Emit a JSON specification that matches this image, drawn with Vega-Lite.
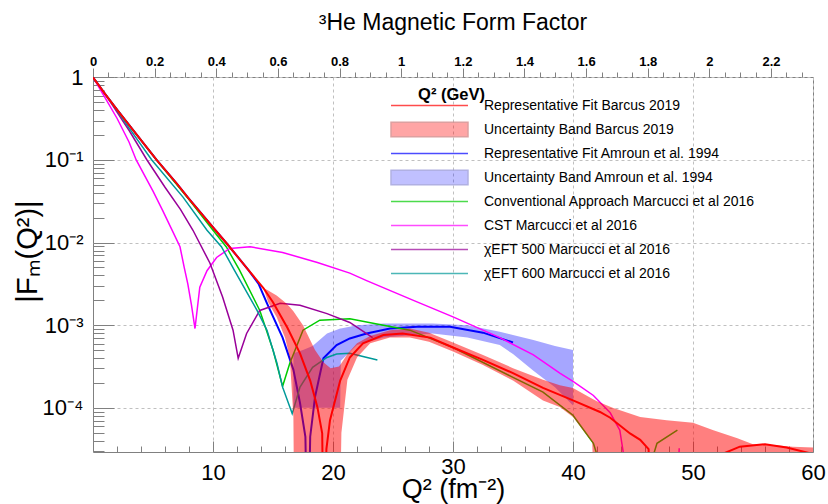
{
  "$schema": "https://vega.github.io/schema/vega-lite/v6.json",
  "width": 720,
  "height": 375,
  "padding": {"left": 13, "top": 12, "right": 0, "bottom": 0},
  "background": "white",
  "title": {"text": "³He Magnetic Form Factor", "font": "Liberation Sans", "fontSize": 23, "fontWeight": "normal", "color": "#000", "anchor": "middle", "offset": 20},
  "config": {
    "view": {"stroke": "#808080", "strokeWidth": 1},
    "axis": {"labelFont": "Liberation Sans", "titleFont": "Liberation Sans", "labelColor": "#000", "titleColor": "#000", "tickColor": "#808080", "gridColor": "#c0c0c0", "gridDash": [3, 3], "domain": false, "labelOverlap": false, "labelFlush": false, "labelBound": false},
    "legend": {"orient": "none", "legendX": 328, "legendY": 20, "title": null, "direction": "vertical", "labelFont": "Liberation Sans", "labelFontSize": 14, "labelColor": "#000", "labelLimit": 500, "symbolSize": 237, "symbolStrokeWidth": 1.5, "labelOffset": 46, "rowPadding": 3, "gridAlign": "all", "padding": 0}
  },
  "datasets": {
    "lines": [
      {"s": "Representative Fit Barcus 2019", "q2": 0, "f": 1},
      {"s": "Representative Fit Barcus 2019", "q2": 1, "f": 0.631},
      {"s": "Representative Fit Barcus 2019", "q2": 2, "f": 0.407},
      {"s": "Representative Fit Barcus 2019", "q2": 3, "f": 0.266},
      {"s": "Representative Fit Barcus 2019", "q2": 4, "f": 0.174},
      {"s": "Representative Fit Barcus 2019", "q2": 5.3, "f": 0.1},
      {"s": "Representative Fit Barcus 2019", "q2": 7, "f": 0.0513},
      {"s": "Representative Fit Barcus 2019", "q2": 8, "f": 0.0339},
      {"s": "Representative Fit Barcus 2019", "q2": 10.2, "f": 0.0141},
      {"s": "Representative Fit Barcus 2019", "q2": 11.2, "f": 0.00955},
      {"s": "Representative Fit Barcus 2019", "q2": 12.94, "f": 0.00468},
      {"s": "Representative Fit Barcus 2019", "q2": 14.2, "f": 0.00282},
      {"s": "Representative Fit Barcus 2019", "q2": 15, "f": 0.0019},
      {"s": "Representative Fit Barcus 2019", "q2": 16.2, "f": 0.000933},
      {"s": "Representative Fit Barcus 2019", "q2": 17.25, "f": 0.000457},
      {"s": "Representative Fit Barcus 2019", "q2": 18.1, "f": 0.000214},
      {"s": "Representative Fit Barcus 2019", "q2": 18.7, "f": 0.000102},
      {"s": "Representative Fit Barcus 2019", "q2": 19.1, "f": 0.000049},
      {"s": "Representative Fit Barcus 2019", "q2": 19.25, "f": 0.000001},
      {"s": "Representative Fit Barcus 2019", "q2": 19.45, "f": 0.0000316},
      {"s": "Representative Fit Barcus 2019", "q2": 19.75, "f": 0.0000708},
      {"s": "Representative Fit Barcus 2019", "q2": 20.6, "f": 0.000214},
      {"s": "Representative Fit Barcus 2019", "q2": 21.4, "f": 0.000407},
      {"s": "Representative Fit Barcus 2019", "q2": 22.5, "f": 0.000603},
      {"s": "Representative Fit Barcus 2019", "q2": 24.2, "f": 0.000759},
      {"s": "Representative Fit Barcus 2019", "q2": 25.8, "f": 0.000794},
      {"s": "Representative Fit Barcus 2019", "q2": 28.1, "f": 0.000708},
      {"s": "Representative Fit Barcus 2019", "q2": 30, "f": 0.000537},
      {"s": "Representative Fit Barcus 2019", "q2": 32.5, "f": 0.00038},
      {"s": "Representative Fit Barcus 2019", "q2": 35, "f": 0.000263},
      {"s": "Representative Fit Barcus 2019", "q2": 37.5, "f": 0.000174},
      {"s": "Representative Fit Barcus 2019", "q2": 40, "f": 0.000123},
      {"s": "Representative Fit Barcus 2019", "q2": 42.25, "f": 0.0000891},
      {"s": "Representative Fit Barcus 2019", "q2": 43.1, "f": 0.0000759},
      {"s": "Representative Fit Barcus 2019", "q2": 44.75, "f": 0.000049},
      {"s": "Representative Fit Barcus 2019", "q2": 45.6, "f": 0.000041},
      {"s": "Representative Fit Barcus 2019", "q2": 46.3, "f": 0.0000316},
      {"s": "Representative Fit Barcus 2019", "q2": 46.6, "f": 0.000001},
      {"s": "Representative Fit Barcus 2019", "q2": 48, "f": 0.0000063},
      {"s": "Representative Fit Barcus 2019", "q2": 50, "f": 0.0000141},
      {"s": "Representative Fit Barcus 2019", "q2": 52.25, "f": 0.0000269},
      {"s": "Representative Fit Barcus 2019", "q2": 53.9, "f": 0.0000339},
      {"s": "Representative Fit Barcus 2019", "q2": 56, "f": 0.0000363},
      {"s": "Representative Fit Barcus 2019", "q2": 57.8, "f": 0.0000331},
      {"s": "Representative Fit Barcus 2019", "q2": 59.75, "f": 0.0000282},
      {"s": "Representative Fit Barcus 2019", "q2": 60, "f": 0.0000269},

      {"s": "Representative Fit Amroun et al. 1994", "q2": 0, "f": 1},
      {"s": "Representative Fit Amroun et al. 1994", "q2": 1, "f": 0.631},
      {"s": "Representative Fit Amroun et al. 1994", "q2": 2, "f": 0.407},
      {"s": "Representative Fit Amroun et al. 1994", "q2": 3, "f": 0.266},
      {"s": "Representative Fit Amroun et al. 1994", "q2": 4, "f": 0.174},
      {"s": "Representative Fit Amroun et al. 1994", "q2": 5.3, "f": 0.1},
      {"s": "Representative Fit Amroun et al. 1994", "q2": 7, "f": 0.0513},
      {"s": "Representative Fit Amroun et al. 1994", "q2": 8, "f": 0.0339},
      {"s": "Representative Fit Amroun et al. 1994", "q2": 10.2, "f": 0.0141},
      {"s": "Representative Fit Amroun et al. 1994", "q2": 11.2, "f": 0.00955},
      {"s": "Representative Fit Amroun et al. 1994", "q2": 12.94, "f": 0.00468},
      {"s": "Representative Fit Amroun et al. 1994", "q2": 13.8, "f": 0.00316},
      {"s": "Representative Fit Amroun et al. 1994", "q2": 14.5, "f": 0.00184},
      {"s": "Representative Fit Amroun et al. 1994", "q2": 15.8, "f": 0.000708},
      {"s": "Representative Fit Amroun et al. 1994", "q2": 16.7, "f": 0.000288},
      {"s": "Representative Fit Amroun et al. 1994", "q2": 17.25, "f": 0.000115},
      {"s": "Representative Fit Amroun et al. 1994", "q2": 17.7, "f": 0.0000447},
      {"s": "Representative Fit Amroun et al. 1994", "q2": 17.9, "f": 0.000001},
      {"s": "Representative Fit Amroun et al. 1994", "q2": 18.1, "f": 0.0000447},
      {"s": "Representative Fit Amroun et al. 1994", "q2": 18.5, "f": 0.000135},
      {"s": "Representative Fit Amroun et al. 1994", "q2": 19.2, "f": 0.000398},
      {"s": "Representative Fit Amroun et al. 1994", "q2": 20.3, "f": 0.000575},
      {"s": "Representative Fit Amroun et al. 1994", "q2": 21.4, "f": 0.000692},
      {"s": "Representative Fit Amroun et al. 1994", "q2": 22.8, "f": 0.000794},
      {"s": "Representative Fit Amroun et al. 1994", "q2": 24.75, "f": 0.000912},
      {"s": "Representative Fit Amroun et al. 1994", "q2": 27, "f": 0.000955},
      {"s": "Representative Fit Amroun et al. 1994", "q2": 29.75, "f": 0.000955},
      {"s": "Representative Fit Amroun et al. 1994", "q2": 32.5, "f": 0.000813},
      {"s": "Representative Fit Amroun et al. 1994", "q2": 35, "f": 0.000617},

      {"s": "Conventional Approach Marcucci et al 2016", "q2": 0, "f": 1},
      {"s": "Conventional Approach Marcucci et al 2016", "q2": 1, "f": 0.631},
      {"s": "Conventional Approach Marcucci et al 2016", "q2": 2, "f": 0.407},
      {"s": "Conventional Approach Marcucci et al 2016", "q2": 3, "f": 0.266},
      {"s": "Conventional Approach Marcucci et al 2016", "q2": 4, "f": 0.174},
      {"s": "Conventional Approach Marcucci et al 2016", "q2": 5.3, "f": 0.1},
      {"s": "Conventional Approach Marcucci et al 2016", "q2": 8, "f": 0.0331},
      {"s": "Conventional Approach Marcucci et al 2016", "q2": 10, "f": 0.0141},
      {"s": "Conventional Approach Marcucci et al 2016", "q2": 11.1, "f": 0.00891},
      {"s": "Conventional Approach Marcucci et al 2016", "q2": 12.2, "f": 0.00468},
      {"s": "Conventional Approach Marcucci et al 2016", "q2": 13.9, "f": 0.00151},
      {"s": "Conventional Approach Marcucci et al 2016", "q2": 15, "f": 0.000501},
      {"s": "Conventional Approach Marcucci et al 2016", "q2": 15.8, "f": 0.000182},
      {"s": "Conventional Approach Marcucci et al 2016", "q2": 16.4, "f": 0.000347},
      {"s": "Conventional Approach Marcucci et al 2016", "q2": 17.5, "f": 0.000871},
      {"s": "Conventional Approach Marcucci et al 2016", "q2": 18.9, "f": 0.00115},
      {"s": "Conventional Approach Marcucci et al 2016", "q2": 21.4, "f": 0.0012},
      {"s": "Conventional Approach Marcucci et al 2016", "q2": 24.2, "f": 0.001},
      {"s": "Conventional Approach Marcucci et al 2016", "q2": 26.4, "f": 0.000871},
      {"s": "Conventional Approach Marcucci et al 2016", "q2": 30, "f": 0.000537},
      {"s": "Conventional Approach Marcucci et al 2016", "q2": 35, "f": 0.000234},
      {"s": "Conventional Approach Marcucci et al 2016", "q2": 37.5, "f": 0.000155},
      {"s": "Conventional Approach Marcucci et al 2016", "q2": 40, "f": 0.0000813},
      {"s": "Conventional Approach Marcucci et al 2016", "q2": 41.7, "f": 0.0000372},
      {"s": "Conventional Approach Marcucci et al 2016", "q2": 44, "f": 0.00000316},
      {"s": "Conventional Approach Marcucci et al 2016", "q2": 46, "f": 0.0000126},
      {"s": "Conventional Approach Marcucci et al 2016", "q2": 47, "f": 0.0000372},
      {"s": "Conventional Approach Marcucci et al 2016", "q2": 48.7, "f": 0.0000537},

      {"s": "CST Marcucci et al 2016", "q2": 0, "f": 1},
      {"s": "CST Marcucci et al 2016", "q2": 1, "f": 0.57},
      {"s": "CST Marcucci et al 2016", "q2": 2, "f": 0.32},
      {"s": "CST Marcucci et al 2016", "q2": 3, "f": 0.165},
      {"s": "CST Marcucci et al 2016", "q2": 3.6, "f": 0.1},
      {"s": "CST Marcucci et al 2016", "q2": 5, "f": 0.042},
      {"s": "CST Marcucci et al 2016", "q2": 5.8, "f": 0.0245},
      {"s": "CST Marcucci et al 2016", "q2": 6.5, "f": 0.0151},
      {"s": "CST Marcucci et al 2016", "q2": 7.25, "f": 0.00891},
      {"s": "CST Marcucci et al 2016", "q2": 7.6, "f": 0.00501},
      {"s": "CST Marcucci et al 2016", "q2": 7.9, "f": 0.00316},
      {"s": "CST Marcucci et al 2016", "q2": 8.2, "f": 0.00178},
      {"s": "CST Marcucci et al 2016", "q2": 8.5, "f": 0.000912},
      {"s": "CST Marcucci et al 2016", "q2": 8.9, "f": 0.00288},
      {"s": "CST Marcucci et al 2016", "q2": 9.5, "f": 0.00457},
      {"s": "CST Marcucci et al 2016", "q2": 10.3, "f": 0.00661},
      {"s": "CST Marcucci et al 2016", "q2": 11.4, "f": 0.00851},
      {"s": "CST Marcucci et al 2016", "q2": 13.1, "f": 0.00891},
      {"s": "CST Marcucci et al 2016", "q2": 15.8, "f": 0.00759},
      {"s": "CST Marcucci et al 2016", "q2": 18.7, "f": 0.00575},
      {"s": "CST Marcucci et al 2016", "q2": 21.4, "f": 0.00427},
      {"s": "CST Marcucci et al 2016", "q2": 22.8, "f": 0.00347},
      {"s": "CST Marcucci et al 2016", "q2": 26.7, "f": 0.002},
      {"s": "CST Marcucci et al 2016", "q2": 30, "f": 0.00126},
      {"s": "CST Marcucci et al 2016", "q2": 33.9, "f": 0.000708},
      {"s": "CST Marcucci et al 2016", "q2": 36.7, "f": 0.000437},
      {"s": "CST Marcucci et al 2016", "q2": 38.9, "f": 0.000263},
      {"s": "CST Marcucci et al 2016", "q2": 40, "f": 0.000209},
      {"s": "CST Marcucci et al 2016", "q2": 41.7, "f": 0.000141},
      {"s": "CST Marcucci et al 2016", "q2": 43.1, "f": 0.0000871},
      {"s": "CST Marcucci et al 2016", "q2": 43.9, "f": 0.0000537},
      {"s": "CST Marcucci et al 2016", "q2": 44.2, "f": 0.0000282},
      {"s": "CST Marcucci et al 2016", "q2": 44.5, "f": 0.000001},
      {"s": "CST Marcucci et al 2016", "q2": 48.6, "f": 0.00000316},
      {"s": "CST Marcucci et al 2016", "q2": 48.85, "f": 0.0000324},

      {"s": "χEFT 500 Marcucci et al 2016", "q2": 0, "f": 1},
      {"s": "χEFT 500 Marcucci et al 2016", "q2": 1, "f": 0.631},
      {"s": "χEFT 500 Marcucci et al 2016", "q2": 2, "f": 0.38},
      {"s": "χEFT 500 Marcucci et al 2016", "q2": 3, "f": 0.229},
      {"s": "χEFT 500 Marcucci et al 2016", "q2": 4.5, "f": 0.1},
      {"s": "χEFT 500 Marcucci et al 2016", "q2": 6, "f": 0.0468},
      {"s": "χEFT 500 Marcucci et al 2016", "q2": 7.3, "f": 0.0251},
      {"s": "χEFT 500 Marcucci et al 2016", "q2": 8.33, "f": 0.0141},
      {"s": "χEFT 500 Marcucci et al 2016", "q2": 9.75, "f": 0.00562},
      {"s": "χEFT 500 Marcucci et al 2016", "q2": 10.8, "f": 0.00219},
      {"s": "χEFT 500 Marcucci et al 2016", "q2": 11.67, "f": 0.000871},
      {"s": "χEFT 500 Marcucci et al 2016", "q2": 12.1, "f": 0.000398},
      {"s": "χEFT 500 Marcucci et al 2016", "q2": 12.8, "f": 0.000794},
      {"s": "χEFT 500 Marcucci et al 2016", "q2": 13.9, "f": 0.00151},
      {"s": "χEFT 500 Marcucci et al 2016", "q2": 15.6, "f": 0.00184},
      {"s": "χEFT 500 Marcucci et al 2016", "q2": 17.25, "f": 0.00174},
      {"s": "χEFT 500 Marcucci et al 2016", "q2": 19.5, "f": 0.00138},
      {"s": "χEFT 500 Marcucci et al 2016", "q2": 21.4, "f": 0.00108},
      {"s": "χEFT 500 Marcucci et al 2016", "q2": 23.3, "f": 0.000708},

      {"s": "χEFT 600 Marcucci et al 2016", "q2": 0, "f": 1},
      {"s": "χEFT 600 Marcucci et al 2016", "q2": 1, "f": 0.631},
      {"s": "χEFT 600 Marcucci et al 2016", "q2": 2, "f": 0.398},
      {"s": "χEFT 600 Marcucci et al 2016", "q2": 3, "f": 0.245},
      {"s": "χEFT 600 Marcucci et al 2016", "q2": 4.9, "f": 0.1},
      {"s": "χEFT 600 Marcucci et al 2016", "q2": 7.5, "f": 0.0355},
      {"s": "χEFT 600 Marcucci et al 2016", "q2": 9.5, "f": 0.0141},
      {"s": "χEFT 600 Marcucci et al 2016", "q2": 10.7, "f": 0.00891},
      {"s": "χEFT 600 Marcucci et al 2016", "q2": 11.8, "f": 0.00457},
      {"s": "χEFT 600 Marcucci et al 2016", "q2": 13.67, "f": 0.00151},
      {"s": "χEFT 600 Marcucci et al 2016", "q2": 14.5, "f": 0.000871},
      {"s": "χEFT 600 Marcucci et al 2016", "q2": 15.33, "f": 0.000347},
      {"s": "χEFT 600 Marcucci et al 2016", "q2": 15.8, "f": 0.000178},
      {"s": "χEFT 600 Marcucci et al 2016", "q2": 16.6, "f": 0.0000851},
      {"s": "χEFT 600 Marcucci et al 2016", "q2": 17.25, "f": 0.000178},
      {"s": "χEFT 600 Marcucci et al 2016", "q2": 18.3, "f": 0.000309},
      {"s": "χEFT 600 Marcucci et al 2016", "q2": 19.5, "f": 0.000407},
      {"s": "χEFT 600 Marcucci et al 2016", "q2": 20.3, "f": 0.000447},
      {"s": "χEFT 600 Marcucci et al 2016", "q2": 21.4, "f": 0.000457},
      {"s": "χEFT 600 Marcucci et al 2016", "q2": 22.5, "f": 0.000417},
      {"s": "χEFT 600 Marcucci et al 2016", "q2": 23.7, "f": 0.00038}
    ],
    "bands": [
      {"s": "Uncertainty Band Barcus 2019", "q2": 14.2, "f": 0.00282, "f2": 0.00282},
      {"s": "Uncertainty Band Barcus 2019", "q2": 14.6, "f": 0.0019, "f2": 0.00263},
      {"s": "Uncertainty Band Barcus 2019", "q2": 15.3, "f": 0.00126, "f2": 0.00229},
      {"s": "Uncertainty Band Barcus 2019", "q2": 16, "f": 0.000708, "f2": 0.0019},
      {"s": "Uncertainty Band Barcus 2019", "q2": 16.4, "f": 0.000407, "f2": 0.00166},
      {"s": "Uncertainty Band Barcus 2019", "q2": 16.7, "f": 0.0000776, "f2": 0.00148},
      {"s": "Uncertainty Band Barcus 2019", "q2": 16.8, "f": 0.000001, "f2": 0.00141},
      {"s": "Uncertainty Band Barcus 2019", "q2": 17.5, "f": 0.000001, "f2": 0.001},
      {"s": "Uncertainty Band Barcus 2019", "q2": 18.5, "f": 0.000001, "f2": 0.000501},
      {"s": "Uncertainty Band Barcus 2019", "q2": 19.2, "f": 0.000001, "f2": 0.000355},
      {"s": "Uncertainty Band Barcus 2019", "q2": 19.8, "f": 0.000001, "f2": 0.000302},
      {"s": "Uncertainty Band Barcus 2019", "q2": 20.5, "f": 0.000001, "f2": 0.000316},
      {"s": "Uncertainty Band Barcus 2019", "q2": 20.7, "f": 0.0000501, "f2": 0.000347},
      {"s": "Uncertainty Band Barcus 2019", "q2": 21.2, "f": 0.000219, "f2": 0.000447},
      {"s": "Uncertainty Band Barcus 2019", "q2": 22, "f": 0.000407, "f2": 0.000603},
      {"s": "Uncertainty Band Barcus 2019", "q2": 23.1, "f": 0.000603, "f2": 0.000741},
      {"s": "Uncertainty Band Barcus 2019", "q2": 24.75, "f": 0.000708, "f2": 0.000871},
      {"s": "Uncertainty Band Barcus 2019", "q2": 26.4, "f": 0.000708, "f2": 0.000912},
      {"s": "Uncertainty Band Barcus 2019", "q2": 28, "f": 0.000631, "f2": 0.000813},
      {"s": "Uncertainty Band Barcus 2019", "q2": 30, "f": 0.000479, "f2": 0.000617},
      {"s": "Uncertainty Band Barcus 2019", "q2": 32.5, "f": 0.000331, "f2": 0.000437},
      {"s": "Uncertainty Band Barcus 2019", "q2": 35, "f": 0.000214, "f2": 0.000302},
      {"s": "Uncertainty Band Barcus 2019", "q2": 37.5, "f": 0.000123, "f2": 0.000219},
      {"s": "Uncertainty Band Barcus 2019", "q2": 38.9, "f": 0.000102, "f2": 0.000188},
      {"s": "Uncertainty Band Barcus 2019", "q2": 40, "f": 0.0000776, "f2": 0.000174},
      {"s": "Uncertainty Band Barcus 2019", "q2": 41.6, "f": 0.000038, "f2": 0.000129},
      {"s": "Uncertainty Band Barcus 2019", "q2": 42, "f": 0.000001, "f2": 0.00012},
      {"s": "Uncertainty Band Barcus 2019", "q2": 43.3, "f": 0.000001, "f2": 0.0001},
      {"s": "Uncertainty Band Barcus 2019", "q2": 45.6, "f": 0.000001, "f2": 0.0000776},
      {"s": "Uncertainty Band Barcus 2019", "q2": 47.8, "f": 0.000001, "f2": 0.0000708},
      {"s": "Uncertainty Band Barcus 2019", "q2": 50, "f": 0.000001, "f2": 0.0000661},
      {"s": "Uncertainty Band Barcus 2019", "q2": 51.7, "f": 0.000001, "f2": 0.0000537},
      {"s": "Uncertainty Band Barcus 2019", "q2": 53.7, "f": 0.000001, "f2": 0.0000427},
      {"s": "Uncertainty Band Barcus 2019", "q2": 55, "f": 0.000001, "f2": 0.0000363},
      {"s": "Uncertainty Band Barcus 2019", "q2": 56.7, "f": 0.000001, "f2": 0.0000355},
      {"s": "Uncertainty Band Barcus 2019", "q2": 58.3, "f": 0.000001, "f2": 0.0000339},
      {"s": "Uncertainty Band Barcus 2019", "q2": 60, "f": 0.000001, "f2": 0.0000331},

      {"s": "Uncertainty Band Amroun et al. 1994", "q2": 16.7, "f": 0.0001, "f2": 0.000457},
      {"s": "Uncertainty Band Amroun et al. 1994", "q2": 17.5, "f": 0.0001, "f2": 0.000501},
      {"s": "Uncertainty Band Amroun et al. 1994", "q2": 18.3, "f": 0.0001, "f2": 0.000562},
      {"s": "Uncertainty Band Amroun et al. 1994", "q2": 19.5, "f": 0.0001, "f2": 0.000794},
      {"s": "Uncertainty Band Amroun et al. 1994", "q2": 20.6, "f": 0.0001, "f2": 0.000912},
      {"s": "Uncertainty Band Amroun et al. 1994", "q2": 20.65, "f": 0.000372, "f2": 0.000912},
      {"s": "Uncertainty Band Amroun et al. 1994", "q2": 22, "f": 0.000575, "f2": 0.001},
      {"s": "Uncertainty Band Amroun et al. 1994", "q2": 24.2, "f": 0.000708, "f2": 0.00105},
      {"s": "Uncertainty Band Amroun et al. 1994", "q2": 28.3, "f": 0.000794, "f2": 0.00105},
      {"s": "Uncertainty Band Amroun et al. 1994", "q2": 31.2, "f": 0.000708, "f2": 0.001},
      {"s": "Uncertainty Band Amroun et al. 1994", "q2": 33.9, "f": 0.000575, "f2": 0.000832},
      {"s": "Uncertainty Band Amroun et al. 1994", "q2": 35, "f": 0.000447, "f2": 0.000759},
      {"s": "Uncertainty Band Amroun et al. 1994", "q2": 36.7, "f": 0.000282, "f2": 0.000661},
      {"s": "Uncertainty Band Amroun et al. 1994", "q2": 38.5, "f": 0.000178, "f2": 0.000562},
      {"s": "Uncertainty Band Amroun et al. 1994", "q2": 40, "f": 0.000107, "f2": 0.000501}
    ]
  },
  "encoding": {
    "x": {"field": "q2", "type": "quantitative", "scale": {"domain": [0, 60], "nice": false, "zero": false}, "axis": null},
    "y": {"field": "f", "type": "quantitative", "scale": {"type": "log", "domain": [0.0000292, 1.01], "nice": false}, "axis": null}
  },
  "layer": [
    {
      "data": {"name": "lines"},
      "transform": [{"filter": "datum.s == 'Representative Fit Barcus 2019'"}],
      "mark": {"type": "point", "opacity": 0},
      "encoding": {
        "x": {"field": "q2", "type": "quantitative", "scale": {"domain": [0, 60], "nice": false, "zero": false},
          "axis": {"orient": "bottom", "values": [10, 20, 30, 40, 50, 60], "labelExpr": "datum.value == 30 ? '' : datum.label", "labelFontSize": 22, "labelPadding": 21, "tickSize": -11, "grid": true,
            "title": "Q² (fm⁻²)", "titleFontSize": 27, "titleFontWeight": "normal", "titleY": 45, "titleBaseline": "alphabetic", "titleX": 360}},
        "y": {"field": "f", "type": "quantitative", "scale": {"type": "log", "domain": [0.0000292, 1.01], "nice": false},
          "axis": {"orient": "left", "values": [1, 0.1, 0.01, 0.001, 0.0001],
            "labelExpr": "datum.value == 1 ? '1' : datum.value == 0.1 ? '10⁻¹' : datum.value == 0.01 ? '10⁻²' : datum.value == 0.001 ? '10⁻³' : '10⁻⁴'",
            "labelFontSize": 22, "labelPadding": 31, "labelBaseline": "middle", "tickSize": -21, "grid": true,
            "title": "|Fₘ(Q²)|", "titleFontSize": 29, "titleFontWeight": "normal", "titleAngle": -90, "titleX": -57, "titleY": 174, "titleBaseline": "alphabetic", "titleAlign": "center"}}
      }
    },
    {
      "data": {"name": "lines"},
      "transform": [{"filter": "datum.s == 'Representative Fit Barcus 2019'"}],
      "mark": {"type": "point", "opacity": 0},
      "encoding": {
        "x": {"field": "q2", "type": "quantitative", "scale": {"domain": [0, 60], "nice": false, "zero": false},
          "axis": {"orient": "bottom", "values": [30], "labelFontSize": 22, "labelPadding": 4, "ticks": false, "grid": false, "title": null}}
      }
    },
    {
      "data": {"name": "lines"},
      "transform": [{"filter": "datum.s == 'Representative Fit Barcus 2019'"}],
      "mark": {"type": "point", "opacity": 0},
      "encoding": {
        "x": {"field": "q2", "type": "quantitative", "scale": {"domain": [0, 60], "nice": false, "zero": false},
          "axis": {"orient": "bottom", "values": [2, 4, 6, 8, 12, 14, 16, 18, 22, 24, 26, 28, 32, 34, 36, 38, 42, 44, 46, 48, 52, 54, 56, 58], "labels": false, "tickSize": -6, "grid": false, "title": null}},
        "y": {"field": "f", "type": "quantitative", "scale": {"type": "log", "domain": [0.0000292, 1.01], "nice": false},
          "axis": {"orient": "left", "values": [0.00003, 0.00004, 0.00005, 0.00006, 0.00007, 0.00008, 0.00009, 0.0002, 0.0003, 0.0004, 0.0005, 0.0006, 0.0007, 0.0008, 0.0009, 0.002, 0.003, 0.004, 0.005, 0.006, 0.007, 0.008, 0.009, 0.02, 0.03, 0.04, 0.05, 0.06, 0.07, 0.08, 0.09, 0.2, 0.3, 0.4, 0.5, 0.6, 0.7, 0.8, 0.9],
            "labels": false, "tickSize": -11, "grid": false, "title": null}}
      }
    },
    {
      "data": {"name": "lines"},
      "transform": [{"filter": "datum.s == 'Representative Fit Barcus 2019'"}],
      "mark": {"type": "point", "opacity": 0},
      "encoding": {
        "x": {"field": "q2", "type": "quantitative", "scale": {"domain": [0, 60], "nice": false, "zero": false},
          "axis": {"orient": "top", "values": [0, 5.1364, 10.2728, 15.4091, 20.5455, 25.6819, 30.8183, 35.9546, 41.091, 46.2274, 51.3637, 56.5001],
            "labelExpr": "format(round(datum.value * 0.0389379 * 10) / 10, '~g')",
            "labelFontSize": 13, "labelFontWeight": "bold", "labelPadding": 0, "tickSize": 9, "grid": false,
            "title": "Q² (GeV)", "titleFontSize": 16.5, "titleFontWeight": "bold", "titleX": 358, "titleY": 17, "titleBaseline": "middle", "titleAlign": "center"}}
      }
    },
    {
      "data": {"name": "lines"},
      "transform": [{"filter": "datum.s == 'Representative Fit Barcus 2019'"}],
      "mark": {"type": "point", "opacity": 0},
      "encoding": {
        "x": {"field": "q2", "type": "quantitative", "scale": {"domain": [0, 60], "nice": false, "zero": false},
          "axis": {"orient": "top", "values": [1.2841, 2.5682, 3.8523, 6.4205, 7.7046, 8.9887, 11.5569, 12.841, 14.125, 16.6932, 17.9773, 19.2614, 21.8296, 23.1137, 24.3978, 26.966, 28.2501, 29.5342, 32.1023, 33.3864, 34.6705, 37.2387, 38.5228, 39.8069, 42.3751, 43.6592, 44.9433, 47.5115, 48.7955, 50.0796, 52.6478, 53.9319, 55.216, 57.7842, 59.0683],
            "labels": false, "tickSize": 5, "grid": false, "title": null}}
      }
    },
    {
      "data": {"name": "bands"},
      "transform": [{"filter": "datum.s == 'Uncertainty Band Amroun et al. 1994'"}],
      "mark": {"type": "area", "clip": true},
      "encoding": {
        "y2": {"field": "f2"},
        "fill": {"field": "s", "type": "nominal",
          "scale": {"domain": ["Representative Fit Barcus 2019", "Uncertainty Band Barcus 2019", "Representative Fit Amroun et al. 1994", "Uncertainty Band Amroun et al. 1994", "Conventional Approach Marcucci et al 2016", "CST Marcucci et al 2016", "χEFT 500 Marcucci et al 2016", "χEFT 600 Marcucci et al 2016"],
            "range": ["transparent", "rgba(255,0,0,0.5)", "transparent", "rgba(0,0,255,0.35)", "transparent", "transparent", "transparent", "transparent"]}}
      }
    },
    {
      "data": {"name": "lines"},
      "transform": [{"filter": "datum.s == 'Representative Fit Amroun et al. 1994'"}],
      "mark": {"type": "line", "clip": true, "strokeWidth": 2},
      "encoding": {
        "color": {"field": "s", "type": "nominal",
          "scale": {"domain": ["Representative Fit Barcus 2019", "Uncertainty Band Barcus 2019", "Representative Fit Amroun et al. 1994", "Uncertainty Band Amroun et al. 1994", "Conventional Approach Marcucci et al 2016", "CST Marcucci et al 2016", "χEFT 500 Marcucci et al 2016", "χEFT 600 Marcucci et al 2016"],
            "range": ["#ff0000", "#d07878", "#0000ff", "#9090d8", "#00cc00", "#ff00ff", "#990099", "#009999"]}}
      }
    },
    {
      "data": {"name": "lines"},
      "transform": [{"filter": "datum.s == 'Conventional Approach Marcucci et al 2016'"}],
      "mark": {"type": "line", "clip": true, "strokeWidth": 1.5},
      "encoding": {"color": {"field": "s", "type": "nominal"}}
    },
    {
      "data": {"name": "lines"},
      "transform": [{"filter": "datum.s == 'CST Marcucci et al 2016'"}],
      "mark": {"type": "line", "clip": true, "strokeWidth": 1.5},
      "encoding": {"color": {"field": "s", "type": "nominal"}}
    },
    {
      "data": {"name": "lines"},
      "transform": [{"filter": "datum.s == 'χEFT 500 Marcucci et al 2016'"}],
      "mark": {"type": "line", "clip": true, "strokeWidth": 1.5},
      "encoding": {"color": {"field": "s", "type": "nominal"}}
    },
    {
      "data": {"name": "lines"},
      "transform": [{"filter": "datum.s == 'χEFT 600 Marcucci et al 2016'"}],
      "mark": {"type": "line", "clip": true, "strokeWidth": 1.5},
      "encoding": {"color": {"field": "s", "type": "nominal"}}
    },
    {
      "data": {"name": "bands"},
      "transform": [{"filter": "datum.s == 'Uncertainty Band Barcus 2019'"}],
      "mark": {"type": "area", "clip": true},
      "encoding": {"y2": {"field": "f2"}, "fill": {"field": "s", "type": "nominal"}}
    },
    {
      "data": {"name": "lines"},
      "transform": [{"filter": "datum.s == 'Representative Fit Barcus 2019'"}],
      "mark": {"type": "line", "clip": true, "strokeWidth": 2},
      "encoding": {"color": {"field": "s", "type": "nominal"}}
    },
    {
      "data": {"name": "lines"},
      "transform": [{"filter": "datum.q2 < 0"}],
      "mark": {"type": "point"},
      "encoding": {
        "shape": {"field": "s", "type": "nominal",
          "scale": {"domain": ["Representative Fit Barcus 2019", "Uncertainty Band Barcus 2019", "Representative Fit Amroun et al. 1994", "Uncertainty Band Amroun et al. 1994", "Conventional Approach Marcucci et al 2016", "CST Marcucci et al 2016", "χEFT 500 Marcucci et al 2016", "χEFT 600 Marcucci et al 2016"],
            "range": ["M-5,0H5", "M-5,-0.95H5V0.95H-5Z", "M-5,0H5", "M-5,-0.95H5V0.95H-5Z", "M-5,0H5", "M-5,0H5", "M-5,0H5", "M-5,0H5"]}}
      }
    }
  ],
  "resolve": {"axis": {"x": "independent", "y": "independent"}}
}
